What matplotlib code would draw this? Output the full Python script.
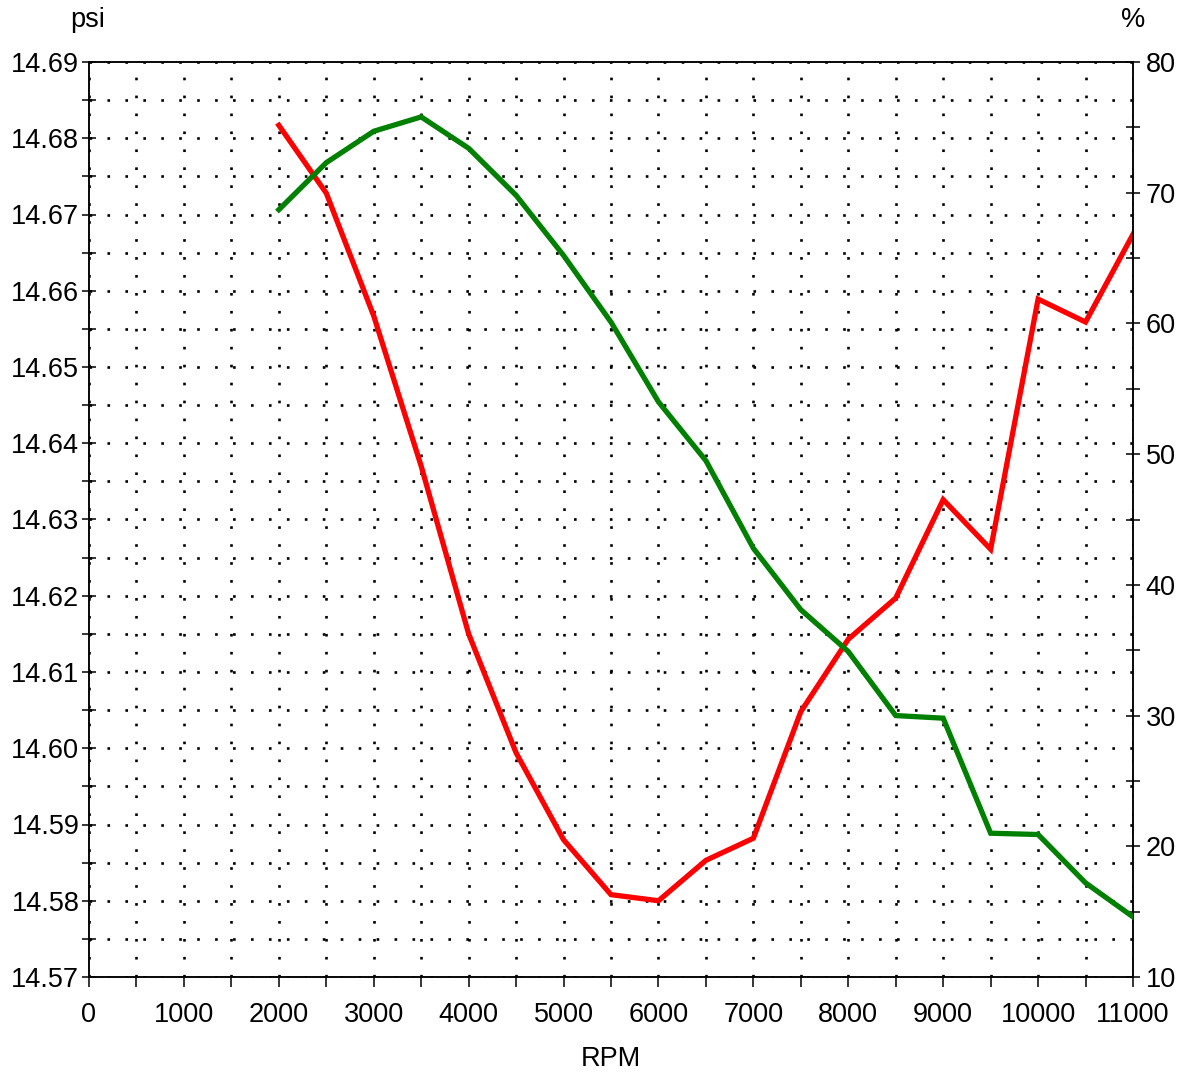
import matplotlib
matplotlib.use("Agg")
import matplotlib.pyplot as plt
from matplotlib.ticker import MultipleLocator, FormatStrFormatter

plt.rcParams['font.family'] = ['Liberation Sans', 'DejaVu Sans']

rpm = [2000, 2500, 3000, 3500, 4000, 4500, 5000, 5500, 6000, 6500,
       7000, 7500, 8000, 8500, 9000, 9500, 10000, 10500, 11000]
psi = [14.6817, 14.6728, 14.6567, 14.6370, 14.6150, 14.5994, 14.5880, 14.5808,
       14.5800, 14.5853, 14.5882, 14.6048, 14.6143, 14.6197, 14.6326, 14.6261,
       14.6589, 14.6559, 14.6674]
pct = [68.7, 72.3, 74.7, 75.8, 73.4, 69.8, 65.2, 60.1, 54.0, 49.5,
       42.8, 38.1, 34.9, 30.0, 29.8, 21.0, 20.9, 17.2, 14.6]

W, H = 1183, 1072
fig = plt.figure(figsize=(W / 100, H / 100), dpi=100)
L, R, T, B = 89, 1133, 62, 977
ax1 = fig.add_axes([L / W, 1 - B / H, (R - L) / W, (B - T) / H])
ax2 = ax1.twinx()

FS = 19.5
dot = dict(color='black', linewidth=1.9, linestyle=(0, (1, 5.8)))

ax1.set_xlim(0, 11000)
ax1.set_ylim(14.57, 14.69)
ax2.set_ylim(10, 80)

ax1.xaxis.set_major_locator(MultipleLocator(1000))
ax1.xaxis.set_minor_locator(MultipleLocator(500))
ax1.yaxis.set_major_locator(MultipleLocator(0.01))
ax1.yaxis.set_minor_locator(MultipleLocator(0.005))
ax1.yaxis.set_major_formatter(FormatStrFormatter('%.2f'))
ax2.yaxis.set_major_locator(MultipleLocator(10))
ax2.yaxis.set_minor_locator(MultipleLocator(5))

ax1.grid(True, which='both', **dot)
ax1.set_axisbelow(True)

ax1.plot(rpm, psi, color='#ff0000', linewidth=3.8, solid_joinstyle='miter', zorder=3)
ax2.plot(rpm, pct, color='#008000', linewidth=3.8, solid_joinstyle='miter', zorder=3)

ax1.tick_params(axis='x', which='both', direction='out', length=7, width=1.1,
                labelsize=FS, pad=11, top=False)
ax1.tick_params(axis='y', which='both', direction='inout', length=10, width=1.1,
                labelsize=FS, pad=2, right=False)
ax2.tick_params(axis='y', which='both', direction='inout', length=10, width=1.1,
                labelsize=FS, pad=4)

for ax in (ax1, ax2):
    for s in ax.spines.values():
        s.set_linewidth(1.1)

ax1.set_xlabel('RPM', fontsize=FS, labelpad=13)
fig.text(88 / W, 1 - 20 / H, 'psi', fontsize=FS, ha='center', va='center')
fig.text(1133 / W, 1 - 20 / H, '%', fontsize=FS, ha='center', va='center')

fig.savefig('out.png', dpi=100)
